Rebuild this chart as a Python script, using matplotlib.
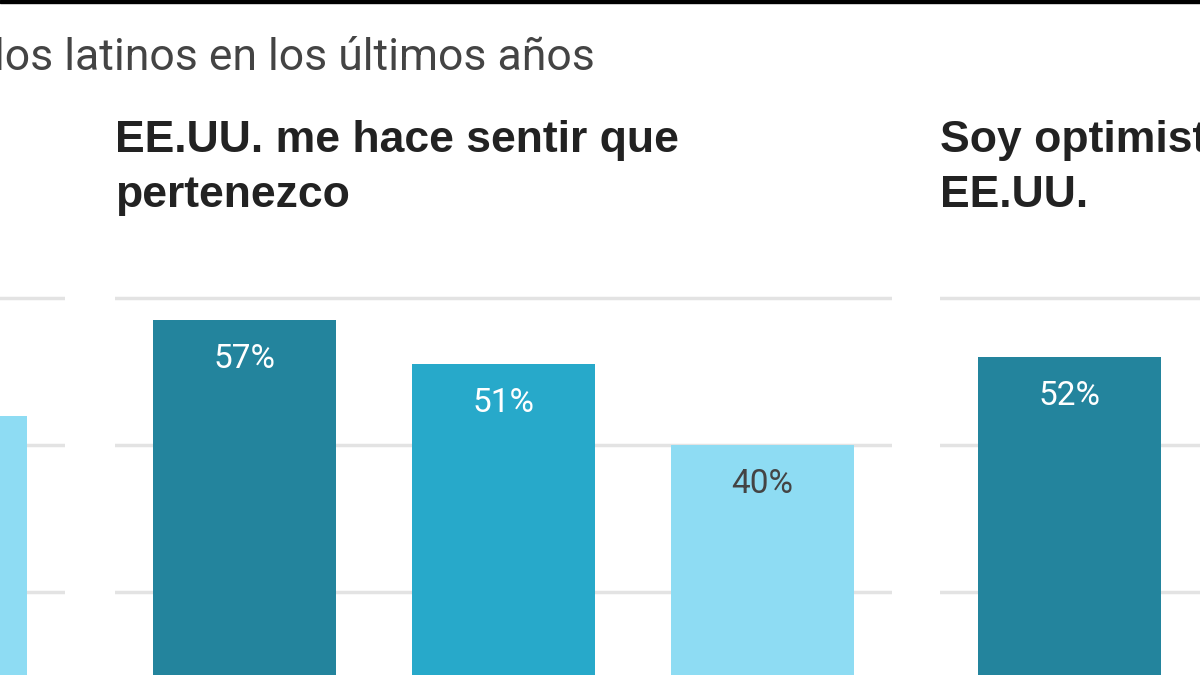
import matplotlib.pyplot as plt

title_text = "los latinos en los últimos años"
panel_titles = ["", "EE.UU. me hace sentir que\npertenezco", "Soy optimista sobre el futuro de\nEE.UU."]
# only the bars that are visible in the crop: (position, value)
left_pos, left_vals = [2], [44]
mid_pos, mid_vals = [0, 1, 2], [57, 51, 40]
right_pos, right_vals = [0], [52]
colors = ["#23849d", "#27a9ca", "#8edcf3"]
label_colors = ["white", "white", "#444444"]

W, H = 1200, 675
fig = plt.figure(figsize=(12, 6.75), dpi=100)
fig.patch.set_facecolor("white")

y0 = 739          # pixel row of 0%
ppu = 7.35        # pixels per percentage point
ytop = 65
bottom = (H - y0) / H
height = ytop * ppu / H


def panel(left_px, positions, values, title):
    ax = fig.add_axes([left_px / W, bottom, 777 / W, height])
    ax.set_xlim(-0.5, 2.5)
    ax.set_ylim(0, ytop)
    for y in [20, 40, 60]:
        ax.axhline(y, color="#e3e3e3", lw=2.5, zorder=0)
    for p, v in zip(positions, values):
        ax.bar(p, v, width=0.708, color=colors[p], zorder=2)
        ax.text(p, v - 5.3, f"{v}%", ha="center", va="center", fontsize=24,
                color=label_colors[p], family="Roboto", zorder=3)
    ax.axis("off")
    if title:
        fig.text(left_px / W, 1 - 120 / H, title, ha="left", va="top", fontsize=32,
                 fontweight="bold", family="Liberation Sans", color="#222222",
                 linespacing=1.45)
    return ax


panel(65 - 777, left_pos, left_vals, panel_titles[0])
panel(115, mid_pos, mid_vals, panel_titles[1])
panel(940, right_pos, right_vals, panel_titles[2])

fig.text(-6 / W, 1 - 58 / H, title_text, ha="left", va="center", fontsize=32,
         family="Roboto", color="#444444")

# black band at the very top of the screenshot
fig.add_artist(plt.Rectangle((0, 1 - 3 / H), 1, 3 / H, transform=fig.transFigure,
                             color="black"))

fig.savefig("out.png", dpi=100)
